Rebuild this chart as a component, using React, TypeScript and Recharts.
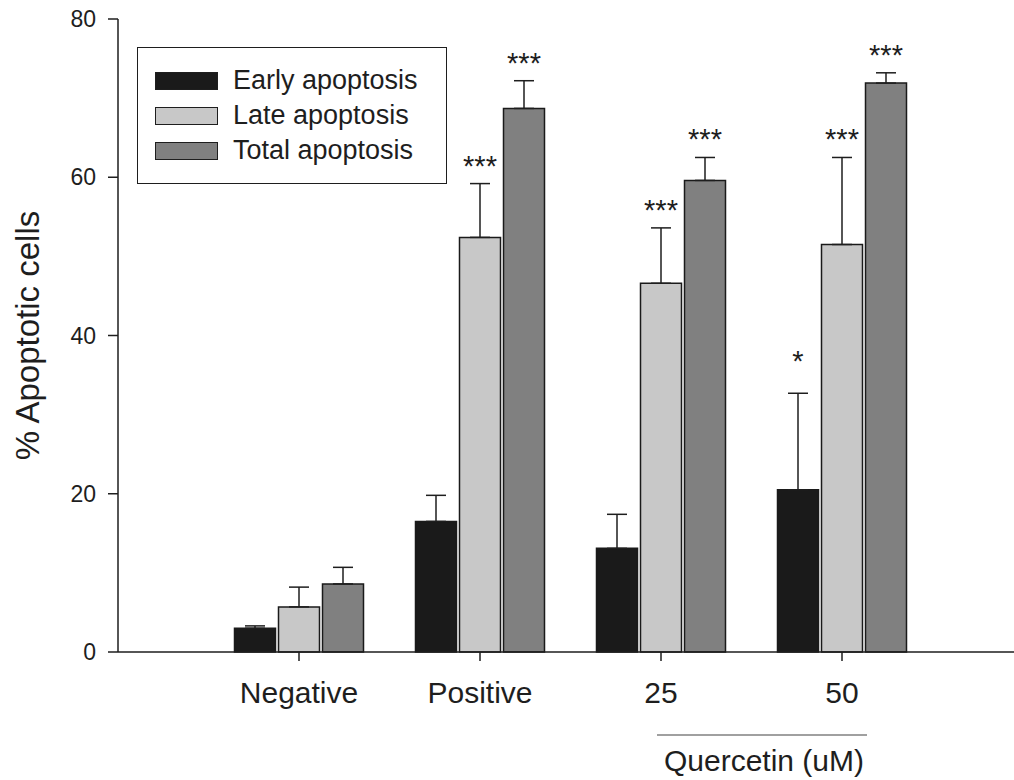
import { BarChart, Bar, XAxis, YAxis, ErrorBar, LabelList } from "recharts";

const groups = ["Negative", "Positive", "25", "50"];

const early = [3.0, 16.5, 13.1, 20.5];
const earlyErr = [0.3, 3.3, 4.3, 12.2];
const late = [5.7, 52.4, 46.6, 51.5];
const lateErr = [2.5, 6.8, 7.0, 11.0];
const total = [8.6, 68.7, 59.6, 71.9];
const totalErr = [2.1, 3.5, 2.9, 1.3];

// significance marks drawn above each error bar
const earlySig = ["", "", "", "*"];
const lateSig = ["", "***", "***", "***"];
const totalSig = ["", "***", "***", "***"];

const yTicks = [0, 20, 40, 60, 80];

const FONT = '"Liberation Sans", Arial, Helvetica, sans-serif';
const INK = "#1e1e1e";

const series = [
  { key: "early", name: "Early apoptosis", fill: "#1a1a1a", values: early, errs: earlyErr, sig: earlySig },
  { key: "late", name: "Late apoptosis", fill: "#c8c8c8", values: late, errs: lateErr, sig: lateSig },
  { key: "total", name: "Total apoptosis", fill: "#808080", values: total, errs: totalErr, sig: totalSig },
];

const rows = groups.map((group, i) => ({
  group,
  early: early[i],
  earlyErr: [0, earlyErr[i]],
  late: late[i],
  lateErr: [0, lateErr[i]],
  total: total[i],
  totalErr: [0, totalErr[i]],
}));

function sigLabel(values: number[], errs: number[], marks: string[]) {
  return (props: any) => {
    const { x, y, width, height, index } = props;
    const mark = marks[index];
    if (!mark) return null;
    const perUnit = height / values[index];
    const errTop = y - errs[index] * perUnit;
    const gap = mark.length === 1 ? 22 : 8;
    return (
      <text x={x + width / 2} y={errTop - gap} textAnchor="middle" fontSize={29} fontFamily={FONT} fill={INK}>
        {mark}
      </text>
    );
  };
}

function XTick(props: any) {
  const { x, y, payload } = props;
  return (
    <text x={x} y={y} dy={42} textAnchor="middle" fontSize={30} fontFamily={FONT} fill={INK}>
      {payload.value}
    </text>
  );
}

function YTitle(props: any) {
  const vb = props.viewBox || { y: 19, height: 633 };
  const cy = vb.y + vb.height / 2;
  return (
    <text
      x={39}
      y={cy}
      transform={`rotate(-90 39 ${cy})`}
      textAnchor="middle"
      fontSize={33}
      fontFamily={FONT}
      fill={INK}
    >
      % Apoptotic cells
    </text>
  );
}

export default function App() {
  return (
    <div style={{ position: "absolute", left: 0, top: 0, width: 1014, height: 780, background: "#fff" }}>
      <BarChart
        width={1014}
        height={780}
        data={rows}
        margin={{ top: 19, right: 0, bottom: 0, left: 0 }}
        barSize={41}
        barGap={3}
      >
        <XAxis
          dataKey="group"
          height={128}
          padding={{ left: 90.5, right: 81.5 }}
          axisLine={{ stroke: INK, strokeWidth: 1.5 }}
          tickLine={{ stroke: INK, strokeWidth: 1.5 }}
          tickSize={9}
          tickMargin={0}
          tick={<XTick />}
          interval={0}
        />
        <YAxis
          width={118}
          domain={[0, 80]}
          ticks={yTicks}
          interval={0}
          axisLine={{ stroke: INK, strokeWidth: 1.5 }}
          tickLine={{ stroke: INK, strokeWidth: 1.5 }}
          tickSize={10}
          tickMargin={12}
          tick={{ fontSize: 23, fontFamily: FONT, fill: INK }}
          label={{ value: "% Apoptotic cells", content: (p: any) => <YTitle {...p} /> }}
        />
        {series.map((s) => (
          <Bar
            key={s.key}
            dataKey={s.key}
            name={s.name}
            fill={s.fill}
            stroke="#1a1a1a"
            strokeWidth={1.5}
            isAnimationActive={false}
          >
            <ErrorBar dataKey={`${s.key}Err`} direction="y" width={10} stroke={INK} strokeWidth={1.5} />
            <LabelList dataKey={s.key} content={sigLabel(s.values, s.errs, s.sig)} />
          </Bar>
        ))}
      </BarChart>

      {/* legend box */}
      <div
        style={{
          position: "absolute",
          left: 137,
          top: 47,
          width: 310,
          height: 137,
          border: `1.5px solid ${INK}`,
          boxSizing: "border-box",
          fontFamily: FONT,
          color: INK,
        }}
      >
        {series.map((s, i) => (
          <div
            key={s.key}
            style={{ position: "absolute", left: 17, top: 23 + i * 35, display: "flex", alignItems: "center", height: 19 }}
          >
            <div
              style={{
                width: 63,
                height: 18,
                background: s.fill,
                border: `1.5px solid ${INK}`,
                boxSizing: "border-box",
              }}
            />
            <span style={{ marginLeft: 15, fontSize: 27, lineHeight: "19px", whiteSpace: "nowrap" }}>{s.name}</span>
          </div>
        ))}
      </div>

      {/* bracket under the quercetin doses */}
      <svg width={1014} height={780} style={{ position: "absolute", left: 0, top: 0, pointerEvents: "none" }}>
        <line x1={657} y1={735} x2={867} y2={735} stroke="#808080" strokeWidth={1.5} />
        <text x={764} y={771} textAnchor="middle" fontSize={30} fontFamily={FONT} fill={INK}>
          Quercetin (uM)
        </text>
      </svg>
    </div>
  );
}
